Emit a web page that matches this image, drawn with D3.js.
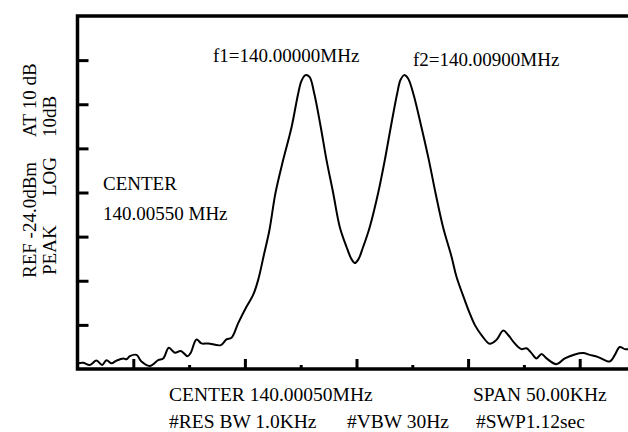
<!DOCTYPE html>
<html>
<head>
<meta charset="utf-8">
<script src="https://cdn.jsdelivr.net/npm/d3@7"></script>
<style>
  html, body { margin: 0; padding: 0; background: #fff; }
  svg text { font-family: "Liberation Serif", "Times New Roman", serif; fill: #000; }
</style>
</head>
<body>
<div id="chart"></div>
<script>
// spectrum trace, frequency offset from screen centre (kHz) and level (dBm)
var freqOffset = [-24.94, -24.49, -23.90, -23.30, -22.79, -22.40, -21.95, -21.51, -20.90, -20.61,
    -20.31, -19.71, -19.27, -18.52, -17.77, -17.32, -16.82, -16.28, -15.74, -15.14,
    -14.85, -14.34, -13.89, -13.29, -12.16, -11.65, -11.20, -10.60, -9.86, -9.26,
    -8.81, -8.33, -7.80, -7.26, -6.57, -5.82, -5.22, -4.93, -4.57, -4.21,
    -3.79, -3.20, -2.69, -2.09, -1.50, -0.90, -0.45, -0.15, 0.18, 0.60,
    1.19, 1.94, 2.54, 3.07, 3.65, 3.94, 4.27, 4.61, 5.08, 5.82,
    6.48, 7.08, 7.77, 8.51, 8.96, 9.70, 10.15, 10.60, 11.20, 11.94,
    12.54, 13.15, 13.59, 14.18, 14.78, 15.23, 15.68, 16.13, 16.58, 17.03,
    17.92, 18.67, 19.56, 20.31, 20.91, 21.66, 22.70, 23.15, 23.59, 24.04, 24.46];
var level = [-102.7, -102.6, -103.1, -102.1, -103.1, -102.0, -102.7, -102.1, -101.6, -101.8,
    -101.1, -100.8, -102.3, -103.3, -102.0, -101.6, -99.2, -100.3, -99.9, -101.1,
    -100.3, -97.3, -98.2, -98.2, -98.6, -97.3, -96.9, -93.6, -89.9, -87.2,
    -83.8, -78.5, -72.5, -64.1, -56.6, -49.2, -41.5, -38.7, -37.4, -37.8,
    -41.5, -49.2, -56.6, -64.1, -71.8, -76.3, -79.1, -80.0, -79.1, -76.3,
    -71.8, -64.1, -56.6, -49.2, -41.5, -38.5, -37.4, -38.1, -41.5, -49.2,
    -56.6, -64.1, -72.0, -78.5, -83.1, -88.4, -91.4, -94.0, -96.3, -98.3,
    -97.4, -95.3, -96.3, -98.2, -99.5, -99.3, -100.4, -101.6, -100.6, -101.6,
    -102.9, -101.6, -100.7, -100.4, -100.8, -101.3, -102.3, -100.8, -99.0, -99.5, -99.5];

var refLevel = -24;
var dbPerDiv = 10;
var levelTicks = [-34, -44, -54, -64, -74, -84, -94];
var freqTicks = [-20, -15, -10, -5, 0, 5, 10, 15, 20];

var leftTexts = [
    { col: 0, text: "REF -24.0dBm", pos: 278 },
    { col: 0, text: "AT 10 dB", pos: 137 },
    { col: 1, text: "PEAK", pos: 275 },
    { col: 1, text: "LOG", pos: 196 },
    { col: 1, text: "10dB", pos: 137 }
];
var peakLabels = [
    { text: "f1=140.00000MHz", x: 213, y: 62 },
    { text: "f2=140.00900MHz", x: 413, y: 66 }
];
var bottomTexts = [
    { text: "CENTER 140.00050MHz", x: 169, y: 401 },
    { text: "SPAN 50.00KHz", x: 473, y: 401 },
    { text: "#RES BW 1.0KHz", x: 169, y: 428 },
    { text: "#VBW 30Hz", x: 347, y: 428 },
    { text: "#SWP1.12sec", x: 476, y: 428 }
];

var W = 628, H = 432;
var plotLeft = 77.5, plotTop = 16, plotBottom = 369;
var plotW = 558; // 10 divisions, right edge runs off the page

var svg = d3.select("#chart").append("svg")
    .attr("width", W)
    .attr("height", H);

var x = d3.scaleLinear().domain([-25, 25]).range([plotLeft, plotLeft + plotW]);
var y = d3.scaleLinear().domain([refLevel - 8 * dbPerDiv, refLevel]).range([plotBottom, plotTop]);

svg.append("defs").append("clipPath").attr("id", "clip")
    .append("rect").attr("x", plotLeft).attr("y", plotTop)
    .attr("width", W - plotLeft).attr("height", plotBottom - plotTop);

// trace
var data = freqOffset.map(function (f, i) { return [f, level[i]]; });
var line = d3.line()
    .x(function (d) { return x(d[0]); })
    .y(function (d) { return y(d[1]); })
    .curve(d3.curveCatmullRom.alpha(0.5));

svg.append("path")
    .datum(data)
    .attr("clip-path", "url(#clip)")
    .attr("d", line)
    .attr("fill", "none")
    .attr("stroke", "#000")
    .attr("stroke-width", 2)
    .attr("stroke-linejoin", "round");

// left axis ticks pointing into the plot
var yAxis = d3.axisLeft(y).tickValues(levelTicks).tickSize(-11).tickFormat("");
var gy = svg.append("g").attr("transform", "translate(" + plotLeft + ",0)").call(yAxis);
gy.select(".domain").remove();
gy.selectAll("line").attr("stroke", "#000").attr("stroke-width", 3);

// bottom ticks, every other one longer
var xAxis = d3.axisBottom(x).tickValues(freqTicks).tickSize(-4).tickFormat("");
var gx = svg.append("g").attr("transform", "translate(0," + plotBottom + ")").call(xAxis);
gx.select(".domain").remove();
gx.selectAll(".tick line")
    .attr("stroke", "#000")
    .attr("stroke-width", 3)
    .attr("y2", function (d) { return d % 10 === 0 ? -10 : -4; });

// frame (open on the right)
svg.append("path")
    .attr("d", "M" + W + "," + plotTop + "H" + plotLeft + "V" + plotBottom + "H" + W)
    .attr("fill", "none")
    .attr("stroke", "#000")
    .attr("stroke-width", 3.5);

// texts
svg.selectAll(".lt")
    .data(leftTexts)
    .enter().append("text")
    .attr("class", "lt")
    .attr("transform", function (d) {
        return "translate(" + (d.col === 0 ? 36 : 56) + "," + d.pos + ") rotate(-90)";
    })
    .style("font-size", "19px")
    .text(function (d) { return d.text; });

svg.append("text").attr("x", 103).attr("y", 190).style("font-size", "19px").text("CENTER");
svg.append("text").attr("x", 103).attr("y", 220).style("font-size", "19px").text("140.00550 MHz");

svg.selectAll(".pl")
    .data(peakLabels)
    .enter().append("text")
    .attr("class", "pl")
    .attr("x", function (d) { return d.x; })
    .attr("y", function (d) { return d.y; })
    .style("font-size", "19px")
    .text(function (d) { return d.text; });

svg.selectAll(".bt")
    .data(bottomTexts)
    .enter().append("text")
    .attr("class", "bt")
    .attr("x", function (d) { return d.x; })
    .attr("y", function (d) { return d.y; })
    .style("font-size", "19.5px")
    .text(function (d) { return d.text; });
</script>
</body>
</html>
